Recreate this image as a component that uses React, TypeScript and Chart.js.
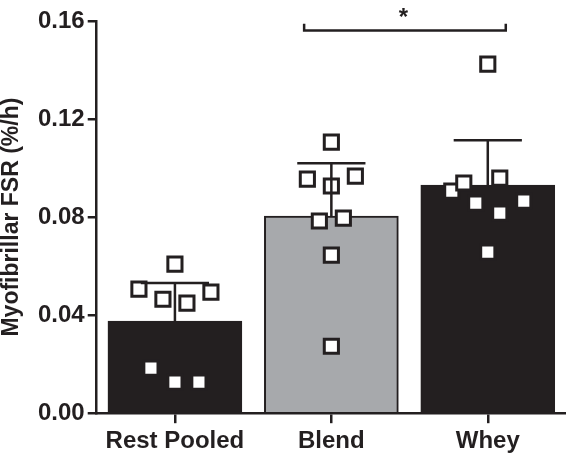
import React, { useEffect, useRef } from "react";
import { Chart, registerables } from "chart.js";

Chart.register(...registerables);

const categories = ["Rest Pooled", "Blend", "Whey"];
const means = [0.0376, 0.0804, 0.0931];
const sdUpper = [0.0155, 0.0216, 0.0183];
const barColors = ["#231f20", "#a7a9ac", "#231f20"];

const restValues = [0.0608, 0.0506, 0.0465, 0.0449, 0.0494, 0.0184, 0.0127, 0.0127];
const restJitter = [0, -3, -1, 1, 3, -2, 0, 2];
const blendValues = [0.1106, 0.0955, 0.0927, 0.0967, 0.0784, 0.0796, 0.0645, 0.0273];
const blendJitter = [0, -2, 0, 2, -1, 1, 0, 0];
const wheyValues = [0.1424, 0.0906, 0.0939, 0.0959, 0.0857, 0.0816, 0.0865, 0.0657];
const wheyJitter = [0, -3, -2, 1, -1, 1, 3, 0];

const yTicks = [0, 0.04, 0.08, 0.12, 0.16];
const yTitle = "Myofibrillar FSR (%/h)";
const sigLabel = "*";

const INK = "#231f20";
const FONT = "'Liberation Sans', Arial, sans-serif";
const JITTER_STEP = 0.0767;

const groups = [
  { values: restValues, jitter: restJitter },
  { values: blendValues, jitter: blendJitter },
  { values: wheyValues, jitter: wheyJitter },
];

const errorBarPlugin = {
  id: "errorBars",
  afterDatasetsDraw(chart: any) {
    const { ctx, scales } = chart;
    const xs = scales.x;
    const ys = scales.y;
    ctx.save();
    ctx.strokeStyle = INK;
    ctx.lineWidth = 2.5;
    ctx.lineCap = "butt";
    means.forEach((m, i) => {
      const x = xs.getPixelForValue(i);
      const y0 = ys.getPixelForValue(m);
      const y1 = ys.getPixelForValue(m + sdUpper[i]);
      const xl = xs.getPixelForValue(i - 0.218);
      const xr = xs.getPixelForValue(i + 0.218);
      ctx.beginPath();
      ctx.moveTo(x, y0);
      ctx.lineTo(x, y1);
      ctx.moveTo(xl, y1);
      ctx.lineTo(xr, y1);
      ctx.stroke();
    });
    ctx.restore();
  },
  afterDraw(chart: any) {
    const { ctx, scales } = chart;
    const xs = scales.x;
    const ys = scales.y;
    const xa = xs.getPixelForValue(0.826);
    const xb = xs.getPixelForValue(2.115);
    const yl = ys.getPixelForValue(0.1561);
    const ye = ys.getPixelForValue(0.1589);
    ctx.save();
    ctx.strokeStyle = INK;
    ctx.lineWidth = 2.5;
    ctx.beginPath();
    ctx.moveTo(xa, ye);
    ctx.lineTo(xa, yl);
    ctx.lineTo(xb, yl);
    ctx.lineTo(xb, ye);
    ctx.stroke();
    ctx.fillStyle = INK;
    ctx.font = `bold 24px ${FONT}`;
    ctx.textAlign = "center";
    ctx.textBaseline = "alphabetic";
    ctx.fillText(sigLabel, xs.getPixelForValue(1.46), ys.getPixelForValue(0.1582));
    ctx.restore();
  },
};

export default function App() {
  const ref = useRef<HTMLCanvasElement | null>(null);

  useEffect(() => {
    if (!ref.current) return;
    const pointData: { x: number; y: number }[] = [];
    groups.forEach((g, i) => {
      g.values.forEach((v, k) => {
        pointData.push({ x: i + g.jitter[k] * JITTER_STEP, y: v });
      });
    });

    const chart = new Chart(ref.current, {
      type: "bar",
      data: {
        datasets: [
          {
            type: "scatter",
            data: pointData,
            pointStyle: "rect",
            pointRadius: 10,
            pointHoverRadius: 10,
            pointBackgroundColor: "#ffffff",
            pointBorderColor: INK,
            pointBorderWidth: 3,
            clip: false,
            order: 0,
          } as any,
          {
            type: "bar",
            data: means.map((m, i) => ({ x: i, y: m })),
            backgroundColor: barColors,
            borderColor: INK,
            borderWidth: 2,
            barThickness: 134,
            order: 1,
          } as any,
        ],
      },
      options: {
        responsive: false,
        animation: false,
        events: [],
        layout: { autoPadding: false, padding: { top: 21, right: 0, bottom: 1, left: 0 } },
        plugins: {
          legend: { display: false },
          tooltip: { enabled: false },
        },
        scales: {
          x: {
            type: "linear",
            offset: false,
            min: -0.5,
            max: 2.5,
            afterBuildTicks: (scale: any) => {
              scale.ticks = categories.map((_, i) => ({ value: i }));
            },
            ticks: {
              color: INK,
              font: { family: FONT, size: 24, weight: "bold" },
              padding: 4,
              maxRotation: 0,
              autoSkip: false,
              callback: (v: any) => categories[Math.round(Number(v))] ?? "",
            },
            grid: {
              display: true,
              offset: false,
              drawOnChartArea: false,
              drawTicks: true,
              tickLength: 10,
              color: INK,
              lineWidth: 2.5,
            },
            border: { display: true, color: INK, width: 2.5 },
          },
          y: {
            type: "linear",
            min: 0,
            max: 0.16,
            afterBuildTicks: (scale: any) => {
              scale.ticks = yTicks.map((v) => ({ value: v }));
            },
            ticks: {
              color: INK,
              font: { family: FONT, size: 24, weight: "bold" },
              padding: 3,
              callback: (v: any) => Number(v).toFixed(2),
            },
            grid: {
              display: true,
              drawOnChartArea: false,
              drawTicks: true,
              tickLength: 9,
              color: INK,
              lineWidth: 2.5,
            },
            border: { display: true, color: INK, width: 2.5 },
            title: {
              display: true,
              text: yTitle,
              color: INK,
              font: { family: FONT, size: 23, weight: "bold", lineHeight: 1 },
              padding: { top: 0, bottom: 12 },
            },
          },
        },
      },
      plugins: [errorBarPlugin],
    } as any);

    return () => chart.destroy();
  }, []);

  return (
    <div style={{ position: "fixed", left: 0, top: 0, width: 566, height: 461, background: "#fff" }}>
      <canvas ref={ref} width={566} height={461} style={{ display: "block" }} />
    </div>
  );
}
